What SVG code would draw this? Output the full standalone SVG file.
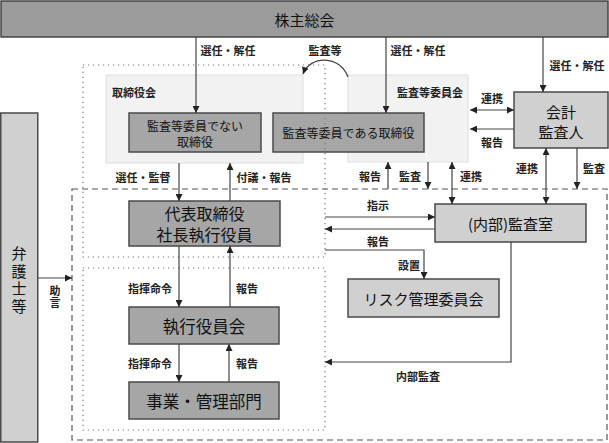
<svg xmlns="http://www.w3.org/2000/svg" width="609" height="443" viewBox="0 0 609 443">
<defs>
<style>
text{font-family:"Noto Sans CJK JP","Noto Sans",sans-serif;fill:#111;text-anchor:middle;dominant-baseline:central}
.s{font-size:11px;font-weight:bold;fill:#222}
.m{font-size:12px}
.b{font-size:15px}
.l{font-size:16.5px}
.v{writing-mode:vertical-rl}
.dark{fill:#a6a6a6;stroke:#4a4a4a;stroke-width:1.5}
.light{fill:#d0d0d0;stroke:#4a4a4a;stroke-width:1.5}
.panel{fill:#f2f2f2;stroke:#dedede;stroke-width:1}
.ln{stroke:#444;stroke-width:1.2;fill:none}
.dot{stroke:#777;stroke-width:1.2;stroke-dasharray:1.2 3.8;fill:none}
.dash{stroke:#555;stroke-width:1.2;stroke-dasharray:6 4;fill:none}
</style>
<marker id="ah" viewBox="0 0 10 10" refX="10" refY="5" markerWidth="7" markerHeight="7" markerUnits="userSpaceOnUse" orient="auto-start-reverse"><path d="M0,0 L10,5 L0,10 z" fill="#222"/></marker>
</defs>
<rect width="609" height="443" fill="#fff"/>

<g id="panel-board">
<rect class="panel" x="106" y="75" width="197" height="88"/>
<text class="s" x="112" y="92" style="text-anchor:start">取締役会</text>
</g>
<g id="panel-audit-committee">
<rect class="panel" x="348" y="75" width="120" height="87"/>
<text class="s" x="463" y="92" style="text-anchor:end">監査等委員会</text>
</g>

<g id="frames">
<rect class="dash" x="72" y="189" width="535" height="251"/>
</g>

<g id="shareholders">
<rect x="1" y="1" width="607" height="36" fill="#9b9b9b" stroke="#444" stroke-width="1.5"/>
<text class="b" x="304.5" y="19">株主総会</text>
</g>
<g id="lawyers">
<rect class="light" x="0.75" y="113" width="37" height="329"/>
<text class="b v" x="19" y="281" letter-spacing="2.5">弁護士等</text>
</g>
<g id="non-audit-directors">
<rect class="dark" x="129" y="113" width="132" height="39"/>
<text class="m" x="195" y="125">監査等委員でない<tspan x="195" dy="16">取締役</tspan></text>
</g>
<g id="audit-directors">
<rect class="dark" x="273" y="113" width="151" height="39"/>
<text class="m" x="348.5" y="132.5">監査等委員である取締役</text>
</g>
<g id="accounting-auditor">
<rect class="light" x="514" y="92" width="94" height="56"/>
<text class="b" x="561" y="111">会計<tspan x="561" dy="19.5">監査人</tspan></text>
</g>
<g id="president">
<rect class="dark" x="129" y="201" width="151" height="45"/>
<text x="204.5" y="212.5" style="font-size:16px">代表取締役<tspan x="204.5" dy="21.5">社長執行役員</tspan></text>
</g>
<g id="internal-audit">
<rect class="light" x="435" y="204" width="151" height="38"/>
<text class="b" x="510.5" y="223">(内部)監査室</text>
</g>
<g id="risk-committee">
<rect class="light" x="348" y="279" width="151" height="38"/>
<text class="b" x="423.5" y="298">リスク管理委員会</text>
</g>
<g id="executive-committee">
<rect class="dark" x="129" y="307" width="150" height="37"/>
<text class="l" x="204" y="325.5">執行役員会</text>
</g>
<g id="departments">
<rect class="dark" x="129" y="382" width="150" height="37"/>
<text class="l" x="204" y="400.5">事業・管理部門</text>
</g>

<g id="dotted-frames">
<rect class="dot" x="83" y="65" width="242" height="192"/>
<rect class="dot" x="83" y="268" width="242" height="162"/>
</g>

<g id="connectors">
<path class="ln" d="M196,37V113" marker-end="url(#ah)"/>
<path class="ln" d="M386,37V113" marker-end="url(#ah)"/>
<path class="ln" d="M543,37V92" marker-end="url(#ah)"/>
<path class="ln" d="M348,77C340,55 310,55 303,74" marker-end="url(#ah)"/>
<path class="ln" d="M470,110H514" marker-start="url(#ah)" marker-end="url(#ah)"/>
<path class="ln" d="M514,129H470" marker-end="url(#ah)"/>
<path class="ln" d="M388,189V162" marker-end="url(#ah)"/>
<path class="ln" d="M428,162V189" marker-end="url(#ah)"/>
<path class="ln" d="M452,162V204" marker-start="url(#ah)" marker-end="url(#ah)"/>
<path class="ln" d="M546,148V204" marker-start="url(#ah)" marker-end="url(#ah)"/>
<path class="ln" d="M577,148V189" marker-end="url(#ah)"/>
<path class="ln" d="M179,163V201" marker-end="url(#ah)"/>
<path class="ln" d="M230,201V163" marker-end="url(#ah)"/>
<path class="ln" d="M179,246V307" marker-end="url(#ah)"/>
<path class="ln" d="M230,307V246" marker-end="url(#ah)"/>
<path class="ln" d="M179,344V382" marker-end="url(#ah)"/>
<path class="ln" d="M229,382V344" marker-end="url(#ah)"/>
<path class="ln" d="M325,217H435" marker-end="url(#ah)"/>
<path class="ln" d="M435,229H325" marker-end="url(#ah)"/>
<path class="ln" d="M325,250H424V279" marker-end="url(#ah)"/>
<path class="ln" d="M511,242V362H325" marker-end="url(#ah)"/>
<path class="ln" d="M38,278H72" marker-end="url(#ah)"/>
</g>

<g id="labels">
<text class="s" x="228" y="50">選任・解任</text>
<text class="s" x="325" y="50">監査等</text>
<text class="s" x="418" y="50">選任・解任</text>
<text class="s" x="577" y="65">選任・解任</text>
<text class="s" x="492" y="98">連携</text>
<text class="s" x="492" y="142">報告</text>
<text class="s" x="370" y="176">報告</text>
<text class="s" x="410" y="176">監査</text>
<text class="s" x="471" y="176">連携</text>
<text class="s" x="527" y="168">連携</text>
<text class="s" x="594" y="168">監査</text>
<text class="s" x="143" y="177">選任・監督</text>
<text class="s" x="264" y="177">付議・報告</text>
<text class="s" x="150" y="288">指揮命令</text>
<text class="s" x="247" y="288">報告</text>
<text class="s" x="150" y="363">指揮命令</text>
<text class="s" x="247" y="363">報告</text>
<text class="s" x="378" y="205">指示</text>
<text class="s" x="378" y="241">報告</text>
<text class="s" x="409" y="265">設置</text>
<text class="s" x="418" y="376">内部監査</text>
<text class="s v" x="55" y="297" letter-spacing="1">助言</text>
</g>
</svg>
